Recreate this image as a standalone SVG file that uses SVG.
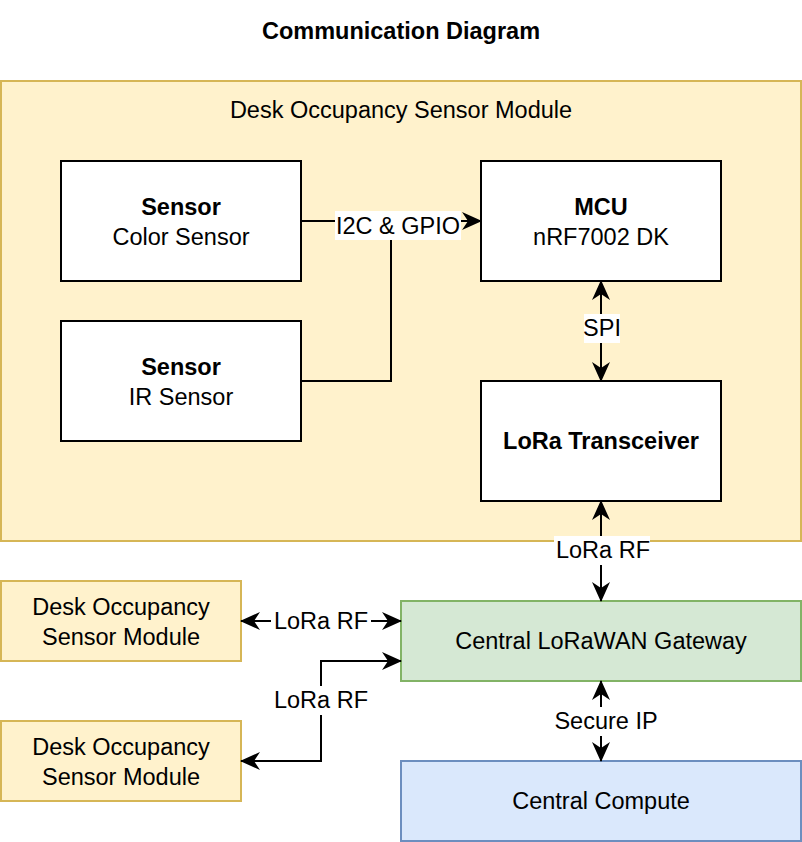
<svg xmlns="http://www.w3.org/2000/svg" width="802" height="842" viewBox="0 0 802 842">
<defs>
<marker id="arr" viewBox="0 0 20 18" refX="19" refY="9" markerWidth="20" markerHeight="18" orient="auto-start-reverse" markerUnits="userSpaceOnUse">
<path d="M0,0 L20,9 L0,18 L6,9 Z" fill="#000"/>
</marker>
</defs>
<style>
text{font-family:"Liberation Sans",Arial,sans-serif;font-size:23.5px;fill:#000;text-anchor:middle;dominant-baseline:central}
.b{font-weight:bold}
.box{fill:#fff;stroke:#000;stroke-width:2}
.yel{fill:#fff2cc;stroke:#d6b656;stroke-width:2}
.grn{fill:#d5e8d4;stroke:#82b366;stroke-width:2}
.blu{fill:#dae8fc;stroke:#6c8ebf;stroke-width:2}
.ln{fill:none;stroke:#000;stroke-width:2}
.lbg{fill:#fff}
</style>
<rect width="802" height="842" fill="#fff"/>
<text class="b" x="401" y="31">Communication Diagram</text>
<g id="module">
<rect class="yel" x="1" y="81" width="800" height="460"/>
<text x="401" y="110">Desk Occupancy Sensor Module</text>
</g>
<g id="color-sensor">
<rect class="box" x="61" y="161" width="240" height="120"/>
<text class="b" x="181" y="207">Sensor</text>
<text x="181" y="237">Color Sensor</text>
</g>
<g id="ir-sensor">
<rect class="box" x="61" y="321" width="240" height="120"/>
<text class="b" x="181" y="367">Sensor</text>
<text x="181" y="397">IR Sensor</text>
</g>
<g id="mcu">
<rect class="box" x="481" y="161" width="240" height="120"/>
<text class="b" x="601" y="207">MCU</text>
<text x="601" y="237">nRF7002 DK</text>
</g>
<g id="lora">
<rect class="box" x="481" y="381" width="240" height="120"/>
<text class="b" x="601" y="441">LoRa Transceiver</text>
</g>
<g id="desk1">
<rect class="yel" x="1" y="581" width="240" height="80"/>
<text x="121" y="607">Desk Occupancy</text>
<text x="121" y="637">Sensor Module</text>
</g>
<g id="desk2">
<rect class="yel" x="1" y="721" width="240" height="80"/>
<text x="121" y="747">Desk Occupancy</text>
<text x="121" y="777">Sensor Module</text>
</g>
<g id="gateway">
<rect class="grn" x="401" y="601" width="400" height="80"/>
<text x="601" y="641">Central LoRaWAN Gateway</text>
</g>
<g id="compute">
<rect class="blu" x="401" y="761" width="400" height="80"/>
<text x="601" y="801">Central Compute</text>
</g>
<g id="connectors">
<path class="ln" d="M301,221 H481" marker-end="url(#arr)"/>
<path class="ln" d="M301,381 H391 V221"/>
<path class="ln" d="M601,281 V381" marker-start="url(#arr)" marker-end="url(#arr)"/>
<path class="ln" d="M601,501 V601" marker-start="url(#arr)" marker-end="url(#arr)"/>
<path class="ln" d="M601,681 V761" marker-start="url(#arr)" marker-end="url(#arr)"/>
<path class="ln" d="M241,621 H401" marker-start="url(#arr)" marker-end="url(#arr)"/>
<path class="ln" d="M401,661 H321 V761 H241" marker-start="url(#arr)" marker-end="url(#arr)"/>
<rect class="lbg" x="335" y="211" width="126" height="29"/>
<text x="398" y="226">I2C &amp; GPIO</text>
<rect class="lbg" x="584" y="314" width="36" height="29"/>
<text x="602" y="328">SPI</text>
<rect class="lbg" x="554" y="536" width="96" height="29"/>
<text x="603" y="550">LoRa RF</text>
<rect class="lbg" x="271" y="607" width="100" height="29"/>
<text x="321" y="621">LoRa RF</text>
<rect class="lbg" x="271" y="686" width="100" height="29"/>
<text x="321" y="700">LoRa RF</text>
<rect class="lbg" x="553" y="707" width="106" height="29"/>
<text x="606" y="721">Secure IP</text>
</g>
</svg>
